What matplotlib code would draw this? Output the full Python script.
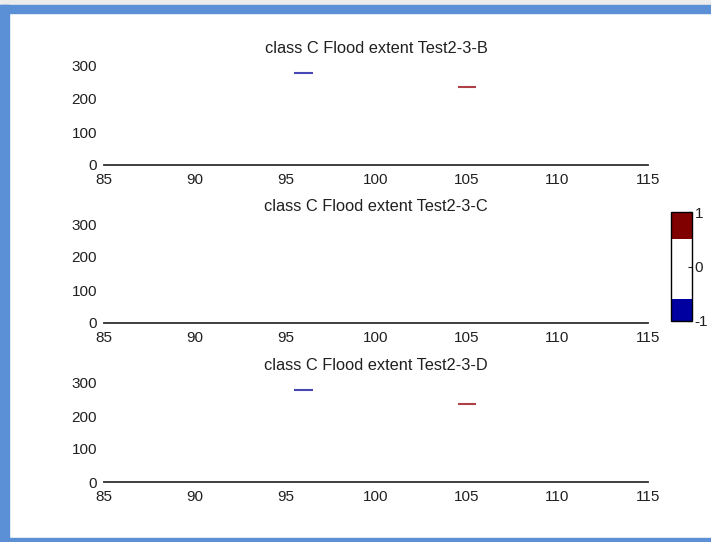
import numpy as np
import matplotlib as mpl
mpl.use('Agg')
import matplotlib.pyplot as plt
from matplotlib.colors import ListedColormap, BoundaryNorm
from matplotlib.patches import Rectangle

plt.rcParams['font.family'] = ['Liberation Sans', 'DejaVu Sans']

# flood extent per test run: short segments (x start, x end, value)
panel_names = ['Test2-3-B', 'Test2-3-C', 'Test2-3-D']
blue_x0 = [95.5, None, 95.5]
blue_x1 = [96.5, None, 96.5]
blue_val = [279, None, 279]
red_x0 = [104.5, None, 104.5]
red_x1 = [105.5, None, 105.5]
red_val = [236, None, 237]

xticks = [85, 90, 95, 100, 105, 110, 115]
yticks = [0, 100, 200, 300]

cbar_bounds = [-1, -0.6, 0.5, 1]
cbar_colors = ['#0000a0', '#ffffff', '#800000']

W, H = 711, 542
fig = plt.figure(figsize=(W / 100, H / 100), dpi=100)

# window frame
fig.patches.append(Rectangle((0, 1 - 5 / H), 1, 5 / H, transform=fig.transFigure,
                             color='#ececec', zorder=0))
fig.patches.append(Rectangle((0, 1 - 13 / H), 1, 8 / H, transform=fig.transFigure,
                             color='#5b8fd6', zorder=1))
fig.patches.append(Rectangle((0, 0), 9 / W, 1 - 5 / H, transform=fig.transFigure,
                             color='#5b8fd6', zorder=1))
fig.patches.append(Rectangle((0, 0), 1, 4 / H, transform=fig.transFigure,
                             color='#5b8fd6', zorder=1))

def px_axes(left, top, right, bottom):
    return fig.add_axes([left / W, 1 - bottom / H, (right - left) / W, (bottom - top) / H])

baselines = [165, 323, 482]
ymax = 330
for i, name in enumerate(panel_names):
    b = baselines[i]
    ax = px_axes(104, b - ymax * 0.33, 648, b)
    ax.set_xlim(85, 115)
    ax.set_ylim(0, ymax)
    for s in ['top', 'right', 'left']:
        ax.spines[s].set_visible(False)
    ax.spines['bottom'].set_linewidth(1.3)
    ax.spines['bottom'].set_color('#303030')
    ax.set_xticks(xticks)
    ax.set_yticks(yticks)
    ax.tick_params(length=0, labelsize=11, colors='#202020')
    ax.tick_params(axis='y', pad=5)
    ax.tick_params(axis='x', pad=6)
    ax.set_title('class C Flood extent ' + name, fontsize=11.8, color='#202020', pad=2)
    if blue_val[i] is not None:
        ax.hlines(blue_val[i], blue_x0[i], blue_x1[i], color='#4646b4', lw=1.5)
    if red_val[i] is not None:
        ax.hlines(red_val[i], red_x0[i], red_x1[i], color='#b04048', lw=1.5)

# colour scale on the right
cax = px_axes(671, 212, 692, 321)
cmap = ListedColormap(cbar_colors)
norm = BoundaryNorm(cbar_bounds, cmap.N)
cb = fig.colorbar(mpl.cm.ScalarMappable(norm=norm, cmap=cmap), cax=cax,
                  ticks=[-1, 0, 1], spacing='proportional')
cb.ax.minorticks_off()
cb.ax.set_yticklabels(['-1', '0', '1'])
cb.outline.set_linewidth(1.0)
cb.ax.tick_params(direction='in', length=3, labelsize=11, pad=2, colors='#202020')

fig.savefig('out.png', dpi=100)
